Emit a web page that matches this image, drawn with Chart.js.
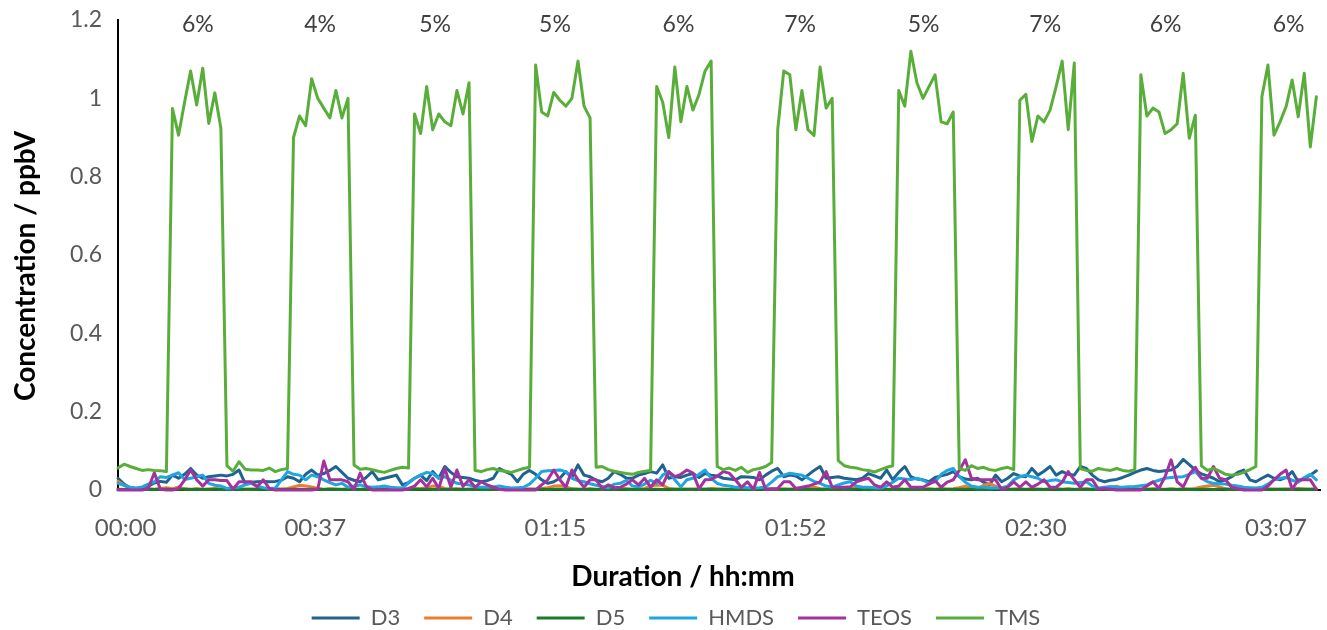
<!DOCTYPE html>
<html>
<head>
<meta charset="utf-8">
<script src="https://cdn.jsdelivr.net/npm/chart.js@4.4.1/dist/chart.umd.min.js"></script>
<style>
  html, body { margin: 0; padding: 0; background: #fff; }
  #wrap { width: 1327px; height: 630px; }
</style>
</head>
<body>
<div id="wrap"><canvas id="c" width="1327" height="630"></canvas></div>
<script>
// ---------- DATA (199 evenly spaced samples) ----------
const seriesNames = ['D3', 'D4', 'D5', 'HMDS', 'TEOS', 'TMS'];

const D3 = [0.030,0.015,0.005,0.004,0.004,0.010,0.018,0.022,0.020,0.038,0.030,
0.040,0.055,0.038,0.030,0.034,0.036,0.038,0.036,0.040,0.051,
0.017,0.020,0.021,0.022,0.021,0.022,0.025,0.034,0.030,0.021,
0.040,0.051,0.038,0.042,0.050,0.060,0.045,0.030,0.025,0.021,0.032,
0.047,0.026,0.030,0.034,0.038,0.013,0.019,0.030,0.038,0.024,0.047,0.030,0.060,0.045,0.034,0.032,0.030,0.025,0.021,0.024,0.030,0.055,0.047,0.040,0.021,0.041,0.050,0.040,0.026,0.017,0.021,0.030,0.047,0.032,0.064,0.038,0.034,0.025,0.021,0.030,0.047,
0.040,0.030,0.030,0.038,0.042,0.047,0.043,0.064,0.030,0.034,0.032,0.038,0.042,0.032,0.042,0.038,0.036,0.030,0.028,0.026,0.034,0.033,0.032,0.026,0.038,0.048,0.055,0.034,0.038,0.036,0.026,0.038,0.050,0.060,0.030,0.032,0.034,0.030,0.028,0.026,
0.030,0.042,0.036,0.030,0.051,0.026,0.045,0.060,0.034,0.028,0.026,0.021,0.032,0.036,0.040,0.047,0.034,0.028,0.026,0.030,0.020,0.013,0.038,0.021,0.030,0.042,0.036,0.034,0.055,0.038,0.048,0.060,0.038,0.047,0.040,0.038,0.060,0.055,0.038,0.026,
0.021,0.025,0.027,0.032,0.038,0.045,0.051,0.055,0.050,0.047,0.049,0.051,0.060,0.078,0.065,0.051,0.041,0.036,0.030,0.021,0.026,0.034,0.045,0.051,0.026,0.021,0.030,0.038,0.030,0.026,0.032,0.047,0.021,0.030,0.038,0.049];

const D4 = [0.022,0.012,0.004,0.002,0.002,0.003,0.002,0.004,0.006,0.003,
0.008,0.003,0.002,0.003,0.002,0.002,0.004,0.003,0.002,0.002,
0.003,0.002,0.002,0.003,0.004,0.002,0.003,0.002,0.004,0.008,
0.012,0.010,0.008,0.004,0.002,0.003,0.002,0.002,0.003,0.002,
0.002,0.003,0.002,0.004,0.003,0.002,0.002,0.003,0.002,0.004,
0.003,0.006,0.010,0.009,0.004,0.002,0.003,0.002,0.002,0.003,
0.002,0.002,0.003,0.002,0.004,0.003,0.002,0.002,0.003,0.002,
0.004,0.006,0.010,0.011,0.008,0.003,0.002,0.002,0.003,0.002,
0.002,0.003,0.002,0.004,0.003,0.002,0.002,0.004,0.010,0.013,
0.012,0.004,0.002,0.003,0.002,0.002,0.003,0.002,0.004,0.003,
0.002,0.002,0.003,0.002,0.003,0.002,0.004,0.003,0.002,0.002,
0.003,0.002,0.002,0.003,0.004,0.007,0.003,0.002,0.002,0.003,
0.002,0.004,0.007,0.003,0.002,0.002,0.003,0.002,0.002,0.003,
0.002,0.003,0.002,0.002,0.003,0.002,0.004,0.002,0.003,0.006,
0.010,0.004,0.003,0.012,0.016,0.010,0.003,0.002,0.002,0.003,
0.002,0.003,0.002,0.002,0.003,0.004,0.002,0.003,0.002,0.002,
0.003,0.002,0.003,0.004,0.006,0.010,0.004,0.002,0.003,0.002,
0.002,0.003,0.002,0.002,0.003,0.002,0.003,0.002,0.004,0.008,
0.010,0.012,0.008,0.003,0.002,0.003,0.002,0.002,0.003,0.002,
0.003,0.002,0.002,0.003,0.002,0.004,0.003,0.002,0.003];

const D5 = [0.002,0.001,0.002,0.002,0.001,0.002,0.001,0.002,0.002,0.001,
0.002,0.002,0.001,0.002,0.001,0.002,0.002,0.001,0.002,0.001,
0.001,0.002,0.002,0.001,0.002,0.002,0.001,0.002,0.001,0.002,
0.002,0.001,0.002,0.002,0.001,0.002,0.002,0.001,0.002,0.002,
0.001,0.002,0.001,0.002,0.002,0.001,0.002,0.002,0.001,0.002,
0.002,0.002,0.001,0.002,0.001,0.002,0.002,0.001,0.002,0.002,
0.001,0.002,0.002,0.001,0.002,0.001,0.002,0.002,0.001,0.002,
0.002,0.001,0.002,0.002,0.001,0.002,0.002,0.001,0.002,0.001,
0.002,0.002,0.001,0.002,0.002,0.001,0.002,0.001,0.002,0.002,
0.001,0.002,0.002,0.001,0.002,0.002,0.001,0.002,0.002,0.001,
0.002,0.001,0.002,0.002,0.001,0.002,0.002,0.001,0.002,0.002,
0.001,0.002,0.002,0.001,0.002,0.001,0.002,0.002,0.001,0.002,
0.002,0.001,0.002,0.002,0.001,0.002,0.002,0.001,0.002,0.002,
0.001,0.002,0.001,0.002,0.002,0.001,0.002,0.002,0.001,0.002,
0.002,0.002,0.001,0.002,0.001,0.002,0.002,0.001,0.002,0.002,
0.001,0.002,0.002,0.001,0.002,0.002,0.001,0.002,0.001,0.002,
0.002,0.001,0.002,0.002,0.001,0.002,0.002,0.001,0.002,0.002,
0.001,0.002,0.002,0.001,0.002,0.001,0.002,0.002,0.001,0.002,
0.002,0.001,0.002,0.002,0.001,0.002,0.002,0.001,0.002,0.002,
0.001,0.002,0.002,0.001,0.002,0.002,0.001,0.002,0.002];

const HMDS = [0.017,0.012,0.007,0.005,0.008,0.015,0.021,0.034,0.032,0.038,0.044,0.027,0.030,0.034,0.038,0.017,0.012,0.010,0.004,0.006,0.007,0.013,0.017,0.010,0.006,0.004,0.005,0.026,0.047,0.040,0.038,0.026,0.038,0.034,0.026,0.019,0.013,0.017,0.007,0.010,0.013,
0.008,0.007,0.008,0.010,0.007,0.006,0.005,0.018,0.030,0.038,0.045,0.042,0.030,0.034,0.025,0.017,0.015,0.013,0.008,0.007,0.007,0.008,0.010,0.007,0.005,0.006,0.007,0.015,0.030,0.047,0.049,0.050,0.051,0.047,0.030,0.024,0.021,0.016,0.012,0.009,0.005,
0.015,0.017,0.025,0.010,0.008,0.015,0.025,0.017,0.038,0.047,0.026,0.008,0.026,0.030,0.040,0.051,0.030,0.017,0.012,0.010,0.007,0.007,0.006,0.005,0.006,0.008,0.020,0.034,0.038,0.043,0.040,0.038,0.030,0.022,0.017,0.010,0.007,0.013,0.018,0.021,
0.010,0.007,0.007,0.006,0.005,0.010,0.020,0.030,0.028,0.027,0.030,0.025,0.017,0.021,0.040,0.050,0.055,0.034,0.020,0.010,0.007,0.007,0.006,0.005,0.006,0.010,0.026,0.034,0.038,0.034,0.030,0.021,0.024,0.026,0.021,0.019,0.017,0.019,0.021,0.010,0.005,0.007,
0.009,0.007,0.007,0.008,0.009,0.011,0.013,0.020,0.025,0.030,0.032,0.033,0.034,0.040,0.047,0.030,0.021,0.017,0.016,0.015,0.012,0.010,0.007,0.006,0.005,0.007,0.015,0.026,0.030,0.032,0.025,0.020,0.032,0.040,0.026];

const TEOS = [0,0,0,0,0,0.004,0.044,0.002,0,0,0.004,0.025,0.051,0.026,0.010,0.026,0.026,0.024,0.024,0.002,0.021,0.021,0.021,0.008,0.026,0.004,0,0,0,0,0,0,0,0.002,0.074,0.026,0.026,0.026,0.021,0.002,0.043,0.010,
0,0,0,0,0,0,0.004,0.010,0.026,0.008,0.030,0.004,0.055,0.007,0.051,0.009,0.026,0.007,0.021,0.013,0.007,0.002,0,0,0,0,0,0,0.013,0.026,0.051,0.026,0.007,0.051,0.026,0.007,0.026,0.026,0.004,0.013,0.006,
0.007,0.015,0.026,0.013,0.030,0.007,0.026,0.013,0.047,0.034,0.040,0.051,0.043,0.003,0.026,0.027,0.035,0.047,0.043,0.026,0.007,0.021,0.002,0.045,0.002,0.003,0.004,0.021,0.021,0.004,0.007,0.010,0.015,0.021,0.047,0.007,0.007,0.007,0.008,0.021,
0.026,0.030,0.013,0.007,0.021,0.007,0.010,0.026,0.007,0.007,0.007,0.015,0.024,0.007,0.020,0.026,0.050,0.077,0.030,0.026,0.026,0.026,0.026,0.002,0.007,0.021,0.007,0.021,0.007,0.015,0.026,0.007,0.007,0.020,0.047,0.026,0.007,0.026,0.026,0.002,
0.004,0.002,0,0,0,0,0,0.010,0.021,0.004,0.034,0.077,0.021,0.008,0.040,0.058,0.030,0.030,0.060,0.030,0.026,0.007,0.003,0,0,0,0,0.010,0.026,0.040,0.051,0.002,0.026,0.026,0.026,0.002];

const TMS = [0.056,0.066,0.060,0.055,0.050,0.052,0.050,0.049,0.047,
0.974,0.906,0.990,1.070,0.983,1.077,0.936,1.014,0.923,
0.062,0.048,0.072,0.053,0.051,0.051,0.050,0.056,0.047,0.052,0.055,
0.900,0.955,0.930,1.050,1.000,0.975,0.950,1.020,0.950,1.000,
0.064,0.053,0.055,0.052,0.048,0.045,0.050,0.055,0.058,0.056,
0.960,0.910,1.030,0.920,0.960,0.940,0.930,1.020,0.960,1.040,
0.050,0.047,0.052,0.055,0.050,0.048,0.045,0.050,0.055,0.058,
1.085,0.965,0.955,1.015,0.995,0.980,1.000,1.095,0.980,0.950,
0.058,0.060,0.052,0.048,0.045,0.042,0.040,0.045,0.048,0.050,
1.030,0.990,0.900,1.080,0.940,1.030,0.970,1.010,1.070,1.095,
0.060,0.052,0.056,0.050,0.058,0.045,0.052,0.055,0.060,0.070,
0.920,1.070,1.060,0.920,1.020,0.920,0.905,1.080,0.975,1.000,
0.075,0.062,0.058,0.056,0.052,0.050,0.046,0.052,0.058,0.062,
1.020,0.980,1.120,1.040,1.000,1.030,1.060,0.940,0.935,0.965,
0.055,0.050,0.062,0.055,0.058,0.052,0.050,0.055,0.058,0.052,
0.995,1.010,0.890,0.955,0.940,0.970,1.030,1.095,0.920,1.090,
0.055,0.050,0.048,0.055,0.052,0.050,0.055,0.050,0.048,0.052,
1.060,0.955,0.975,0.965,0.910,0.920,0.935,1.064,0.898,0.957,
0.062,0.050,0.055,0.048,0.040,0.038,0.040,0.045,0.052,0.060,
1.004,1.085,0.906,0.940,0.979,1.047,0.953,1.064,0.876,1.004];

// sample timing (minutes): first sample time and interval
const firstSampleMin = 6.7;
const sampleStepMin = 0.945;
const sampleMinutes = TMS.map((_, i) => firstSampleMin + i * sampleStepMin);

// x-axis ticks (minutes) and their labels; first label sits just right of the axis start
const xTickValues = [7.9, 37.5, 75, 112.5, 150, 187.5];
const xTickLabels = ['00:00', '00:37', '01:15', '01:52', '02:30', '03:07'];

// y-axis ticks and labels
const yTickValues = [0, 0.2, 0.4, 0.6, 0.8, 1, 1.2];
const yTickLabels = ['0', '0.2', '0.4', '0.6', '0.8', '1', '1.2'];

// percentage annotations over each TMS pulse (position in sample units, label)
const pulseCenterSamples = [13.2, 33.4, 52.4, 72.2, 92.6, 112.7, 133.1, 153.2, 173.1, 193.4];
const pulseLabels = ['6%', '4%', '5%', '5%', '6%', '7%', '5%', '7%', '6%', '6%'];

// ---------- STYLE ----------
const colors = {
  D3: '#1f6391', D4: '#ed7d31', D5: '#1c7a2c',
  HMDS: '#1fa5df', TEOS: '#a3329f', TMS: '#59ae3a'
};
const valuesByName = { D3, D4, D5, HMDS, TEOS, TMS };
const FONT = 'Lato, "Open Sans", sans-serif';
const LEGEND_CENTER_Y = 618;
const LEGEND_SHIFT_X = 16;

// Excel draws later series on top; Chart.js draws index 0 on top -> reverse
const datasets = seriesNames.slice().reverse().map(name => ({
  label: name,
  data: valuesByName[name].map((v, i) => ({ x: sampleMinutes[i], y: v })),
  borderColor: colors[name],
  backgroundColor: colors[name],
  borderWidth: 3,
  pointRadius: 0,
  pointHoverRadius: 0,
  pointStyle: 'line',
  tension: 0,
  borderJoinStyle: 'round',
  borderCapStyle: 'round',
  fill: false,
  clip: 6
}));

const annotPlugin = {
  id: 'annot',
  afterLayout(chart) {
    const lg = chart.legend;
    if (lg) {
      const p = lg.options.labels.padding;
      const itemH = lg.options.labels.font.size;
      const dy = LEGEND_CENTER_Y - (lg.top + p + itemH / 2);
      lg.top += dy; lg.bottom += dy;
      lg.left += LEGEND_SHIFT_X; lg.right += LEGEND_SHIFT_X;
    }
  },
  afterDraw(chart) {
    const { ctx, scales: { x } } = chart;
    ctx.save();
    ctx.font = '23px ' + FONT;
    ctx.fillStyle = '#404040';
    ctx.textAlign = 'center';
    ctx.textBaseline = 'middle';
    pulseCenterSamples.forEach((s, i) => {
      const m = firstSampleMin + s * sampleStepMin;
      ctx.fillText(pulseLabels[i], x.getPixelForValue(m), 25);
    });
    ctx.font = 'bold 28px ' + FONT;
    ctx.fillStyle = '#000';
    ctx.fillText('Duration / hh:mm', 683, 577);
    ctx.translate(26, 266);
    ctx.rotate(-Math.PI / 2);
    ctx.fillText('Concentration / ppbV', 0, 0);
    ctx.restore();
  }
};

new Chart(document.getElementById('c'), {
  type: 'line',
  data: { datasets },
  options: {
    responsive: false,
    animation: false,
    devicePixelRatio: 1,
    events: [],
    layout: { padding: { top: 20, right: 7, bottom: 0, left: 0 } },
    plugins: {
      tooltip: { enabled: false },
      legend: {
        position: 'bottom',
        reverse: true,
        labels: {
          usePointStyle: true,
          pointStyleWidth: 48,
          padding: 24,
          color: '#595959',
          font: { family: FONT, size: 22 }
        }
      }
    },
    scales: {
      x: {
        type: 'linear',
        min: firstSampleMin,
        max: firstSampleMin + 198.6 * sampleStepMin,
        grid: { display: false, drawTicks: false },
        border: { display: true, color: '#000', width: 2 },
        afterBuildTicks(s) { s.ticks = xTickValues.map(v => ({ value: v })); },
        afterFit(s) {
          s.height = s.chart.height - 490 - (s.chart.legend ? s.chart.legend.height : 0);
          s.paddingLeft = 0; s.paddingRight = 0;
        },
        ticks: {
          padding: 24,
          color: '#595959',
          font: { family: FONT, size: 24 },
          maxRotation: 0,
          autoSkip: false,
          callback: (v) => xTickLabels[xTickValues.indexOf(v)]
        }
      },
      y: {
        min: 0,
        max: 1.2,
        grid: { display: false, drawTicks: false },
        border: { display: true, color: '#000', width: 2 },
        afterBuildTicks(s) { s.ticks = yTickValues.map(v => ({ value: v })); },
        afterFit(s) { s.width = 118; s.paddingTop = 0; s.paddingBottom = 0; },
        ticks: {
          padding: 16,
          color: '#595959',
          font: { family: FONT, size: 23 },
          callback: (v) => yTickLabels[yTickValues.indexOf(v)]
        }
      }
    }
  },
  plugins: [annotPlugin]
});
</script>
</body>
</html>
